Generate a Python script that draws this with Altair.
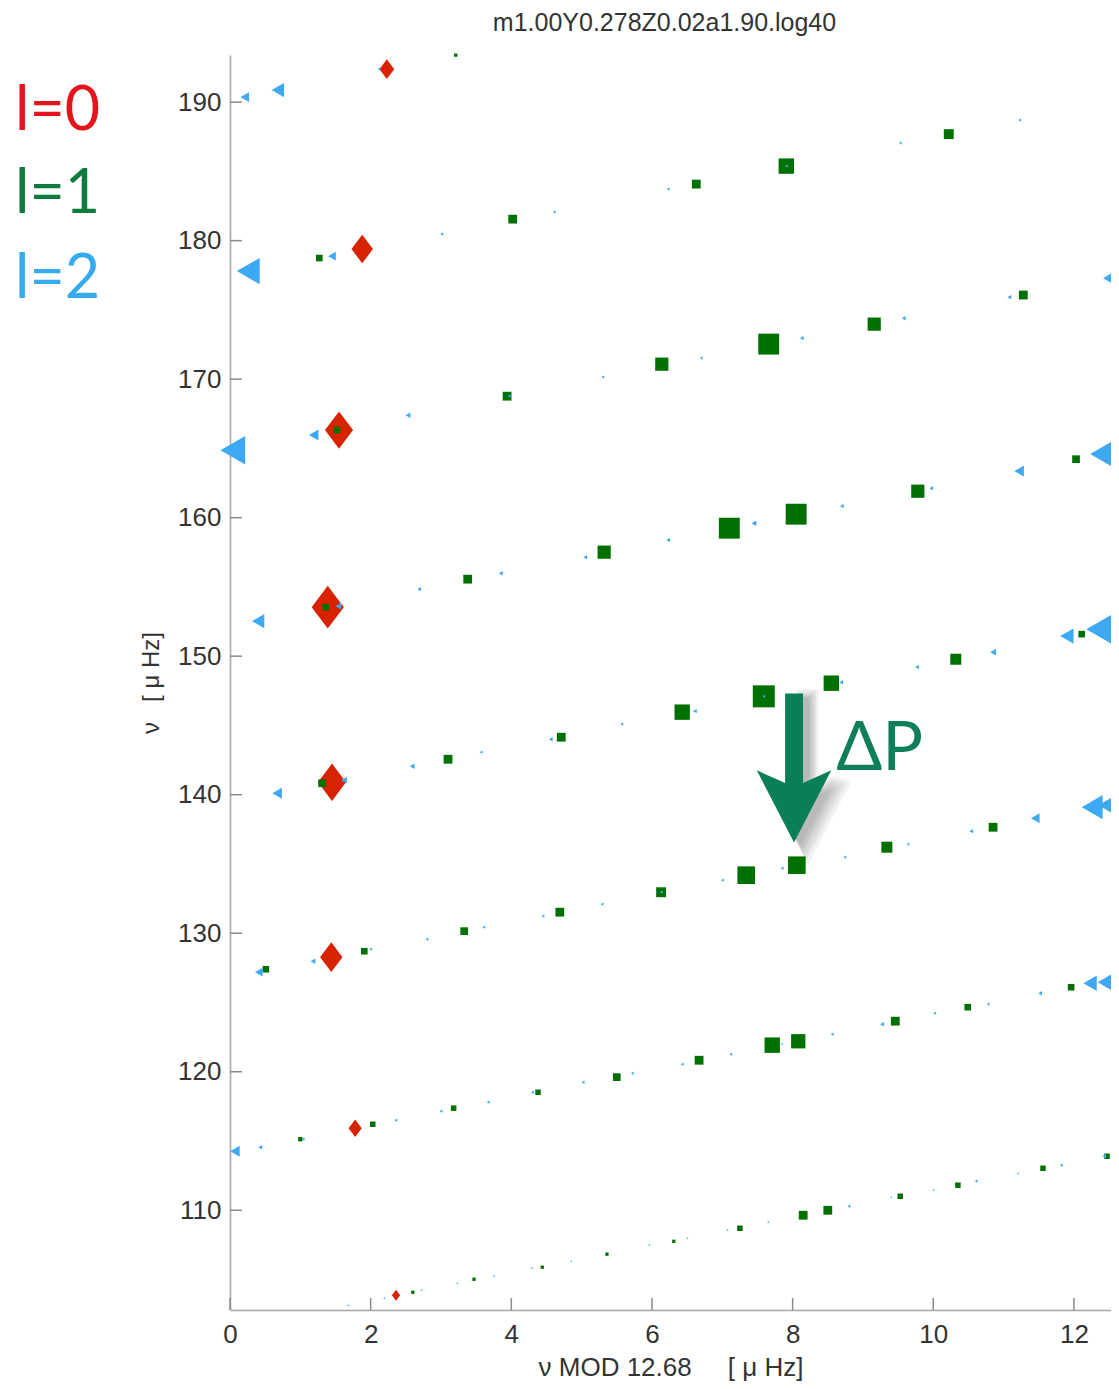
import altair as alt
import pandas as pd

TITLE = "m1.00Y0.278Z0.02a1.90.log40"
X_TITLE = "ν MOD 12.68\u00a0\u00a0\u00a0\u00a0\u00a0[\u00a0μ\u00a0Hz]"
Y_TITLE = "ν\u00a0\u00a0\u00a0[\u00a0μ\u00a0Hz]"

y_ticks = [110, 120, 130, 140, 150, 160, 170, 180, 190]
x_ticks = [0, 2, 4, 6, 8, 10, 12]

legend_labels = ["l=0", "l=1", "l=2"]
legend_colors = ["#e3141b", "#0c7b3c", "#35aaee"]

# l = 0 modes (red diamonds)
l0_x = [2.23, 1.88, 1.55, 1.39, 1.45, 1.44, 1.78, 2.36]
l0_nu = [192.38, 179.39, 166.32, 153.54, 140.90, 128.27, 115.92, 103.87]
l0_amp = [18, 26, 34, 39, 34, 27, 16, 10]

# l = 1 modes (green squares)
l1_x = [3.21, 12.63, 10.22, 7.91, 6.63, 4.02, 1.27,
        11.28, 9.16, 7.66, 6.14, 3.94, 1.52,
        12.03, 9.78, 8.05, 7.10, 5.32, 3.38, 1.36,
        12.11, 10.32, 8.55, 7.59, 6.43, 4.71, 3.10, 1.31,
        10.85, 9.34, 8.06, 7.34, 6.13, 4.69, 3.33, 1.91, 0.51,
        11.96, 10.49, 9.46, 8.08, 7.71, 6.67, 5.50, 4.38, 3.18, 2.03, 1.00,
        12.47, 11.56, 10.35, 9.53, 8.50, 8.15, 7.25, 6.31, 5.36, 4.44, 3.47, 2.60]
l1_nu = [193.39, 190.14, 187.69, 185.38, 184.08, 181.55, 178.74,
         176.07, 173.97, 172.53, 171.08, 168.77, 166.32,
         164.22, 161.91, 160.25, 159.24, 157.51, 155.56, 153.54,
         151.59, 149.78, 148.05, 147.10, 145.96, 144.15, 142.56, 140.83,
         137.65, 136.21, 134.91, 134.19, 132.96, 131.52, 130.15, 128.70, 127.40,
         126.10, 124.66, 123.65, 122.20, 121.92, 120.83, 119.61, 118.52, 117.37, 116.21, 115.13,
         113.90, 113.03, 111.81, 111.01, 110.00, 109.64, 108.70, 107.76, 106.83, 105.89, 105.02, 104.08]
l1_amp = [3, 6, 9, 14, 8, 8, 6,
          8, 12, 19, 12, 8, 6,
          7, 12, 19, 19, 12, 8, 6,
          6, 10, 14, 20, 14, 8, 8, 7,
          8, 10, 16, 16, 9, 8, 7, 6, 6,
          6, 6, 8, 13, 14, 8, 7, 5, 5, 5, 4,
          5, 5, 5, 5, 8, 8, 5, 3, 3, 3, 3, 3]

# l = 2 modes (blue left triangles)
l2_x = [0.21, 0.68, 2.12, 11.23, 9.53, 7.91, 6.23, 4.61, 3.01, 1.45, 0.26,
        12.51, 11.08, 9.58, 8.13, 6.70, 5.30, 3.97, 2.53, 1.19, 0.04,
        12.40, 11.22, 9.97, 8.70, 7.45, 6.23, 5.05, 3.85, 2.69, 1.54, 0.40,
        12.40, 11.90, 10.85, 9.77, 8.69, 7.59, 6.61, 5.57, 4.56, 3.57, 2.59, 1.62, 0.67,
        12.51, 12.26, 11.45, 10.54, 9.64, 8.74, 7.85, 7.00, 6.13, 5.29, 4.45, 3.61, 2.80, 2.00, 1.18, 0.41,
        12.44, 12.23, 11.52, 10.78, 10.02, 9.27, 8.56, 7.85, 7.12, 6.43, 5.72, 5.02, 4.30, 3.67, 3.00, 2.36, 1.04, 0.43, 0.07,
        12.43, 11.82, 11.20, 10.61, 10.00, 9.40, 8.80, 7.65, 7.07, 6.50, 5.96, 4.85, 4.29, 3.75, 3.23, 2.72, 2.19, 1.68]
l2_nu = [190.36, 190.87, 192.38, 188.70, 187.04, 185.38, 183.72, 182.06, 180.47, 178.88, 177.80,
         177.29, 175.92, 174.40, 172.96, 171.52, 170.15, 168.77, 167.40, 165.96, 164.87,
         164.59, 163.36, 162.13, 160.83, 159.60, 158.38, 157.15, 155.99, 154.84, 153.61, 152.53,
         151.95, 151.45, 150.29, 149.21, 148.12, 147.10, 146.03, 145.09, 144.00, 143.07, 142.06, 141.05, 140.11,
         139.24, 139.10, 138.30, 137.37, 136.43, 135.49, 134.69, 133.83, 132.96, 132.10, 131.23, 130.44, 129.57, 128.85, 127.98, 127.19,
         126.46, 126.39, 125.67, 124.88, 124.23, 123.43, 122.71, 122.00, 121.27, 120.54, 119.89, 119.24, 118.52, 117.80, 117.15, 116.50, 115.13, 114.55, 114.26,
         113.90, 113.25, 112.67, 112.10, 111.45, 110.94, 110.29, 109.14, 108.56, 107.98, 107.48, 106.32, 105.82, 105.24, 104.73, 104.23, 103.65, 103.14]
l2_amp = [9, 13, 3, 3, 3, 3, 3, 3, 3, 8, 24,
          14, 4, 4, 4, 3, 3, 3, 5, 10, 26,
          25, 10, 4, 4, 5, 4, 4, 4, 4, 6, 13,
          33, 14, 6, 4, 4, 3, 4, 3, 4, 3, 5, 6, 10,
          24, 22, 9, 4, 3, 3, 3, 3, 3, 3, 3, 3, 3, 3, 5, 8,
          15, 14, 4, 3, 3, 4, 3, 2, 3, 3, 3, 3, 3, 3, 3, 3, 3, 4, 10,
          4, 3, 2, 3, 2, 2, 3, 2, 2, 2, 2, 2, 2, 2, 2, 2, 2, 2]

# annotation (delta P arrow)
arrow_x = [8.02]
arrow_nu = [141.92]
dp_x = [8.62]
dp_nu = [141.77]
dp_text = ["ΔP"]

W, H = 881, 1255
XS = alt.Scale(domain=[0, 12.527], nice=False, zero=False)
YS = alt.Scale(domain=[102.8, 193.4], nice=False, zero=False)
SS = alt.Scale(type="pow", exponent=2, domain=[0, 40], range=[0, 1936])
FONT = "Liberation Sans"
TXT = "#333333"

XAX = alt.Axis(values=x_ticks, ticks=False, grid=False, domain=True,
               domainColor="#a8a8a8", domainWidth=1.6, format="d", labelFlush=False,
               labelFont=FONT, labelFontSize=26, labelColor=TXT, labelPadding=11,
               title=X_TITLE, titleFont=FONT, titleFontSize=26, titleFontWeight="normal",
               titleColor=TXT, titlePadding=7)
YAX = alt.Axis(values=y_ticks, ticks=False, grid=False, domain=True,
               domainColor="#a8a8a8", domainWidth=1.6, format="d",
               labelFont=FONT, labelFontSize=26, labelColor=TXT, labelPadding=9,
               title=Y_TITLE, titleFont=FONT, titleFontSize=24, titleFontWeight="normal",
               titleColor=TXT, titlePadding=14)

df0 = pd.DataFrame({"x": l0_x, "nu": l0_nu, "amp": l0_amp})
df1 = pd.DataFrame({"x": l1_x, "nu": l1_nu, "amp": l1_amp})
df2 = pd.DataFrame({"x": l2_x, "nu": l2_nu, "amp": l2_amp})


def xenc(field="x"):
    return alt.X(f"{field}:Q", scale=XS, axis=XAX)


def yenc(field="nu"):
    return alt.Y(f"{field}:Q", scale=YS, axis=YAX)


def pts(df, shape, color):
    return alt.Chart(df).mark_point(shape=shape, filled=True, color=color,
                                    opacity=1, strokeWidth=0).encode(
        x=xenc(), y=yenc(),
        size=alt.Size("amp:Q", scale=SS, legend=None),
    )


ytick_layer = alt.Chart(pd.DataFrame({"v": y_ticks})).mark_rule(
    color="#8a8a8a", strokeWidth=1.5).encode(
    y=yenc("v"), x=alt.value(0), x2=alt.value(12),
)

xtick_layer = alt.Chart(pd.DataFrame({"v": x_ticks})).mark_rule(
    color="#8a8a8a", strokeWidth=1.5).encode(
    x=xenc("v"), y=alt.value(H), y2=alt.value(H - 12),
)

red = pts(df0, "M0,-1L0.75,0L0,1L-0.75,0Z", "#d82300")
green = pts(df1, "square", "#007000")
blue = pts(df2, "triangle-left", "#3da8f4")

ARROW = "M-0.12,-1L0.12,-1L0.12,0.2L0.5,0.03L0,1L-0.5,0.03L-0.12,0.2Z"
adf = pd.DataFrame({"x": arrow_x, "nu": arrow_nu})
shadows = []
for sc, dx, dy in [(1.40, 14, 9), (1.30, 12, 8), (1.20, 11, 7),
                   (1.12, 9, 6), (1.06, 8, 5), (1.0, 6, 4)]:
    shadows.append(alt.Chart(adf).mark_point(
        shape=ARROW, filled=True, color="#222222", opacity=0.06, strokeWidth=0,
        xOffset=dx, yOffset=dy).encode(
        x=xenc(), y=yenc(), size=alt.value(22201 * sc)))
arrow = alt.Chart(adf).mark_point(shape=ARROW, filled=True, color="#087f55",
                                  opacity=1, strokeWidth=0).encode(
    x=xenc(), y=yenc(), size=alt.value(22201))

dp = alt.Chart(pd.DataFrame({"x": dp_x, "nu": dp_nu, "t": dp_text})).mark_text(
    align="left", baseline="alphabetic", fontSize=68, font="Lato",
    color="#0f7f58").encode(x=xenc(), y=yenc(), text="t:N")

legend_y = [75, 158, 243]
legend_layers = []
for lab, col, yy in zip(legend_labels, legend_colors, legend_y):
    legend_layers.append(alt.Chart(pd.DataFrame({"t": [lab]})).mark_text(
        align="left", baseline="alphabetic", fontSize=61, font="Lato",
        color=col).encode(text="t:N", x=alt.value(-215), y=alt.value(yy)))

chart = alt.layer(
    ytick_layer, xtick_layer, red, green, blue, *shadows, arrow, dp, *legend_layers
).properties(
    width=W, height=H,
    title=alt.TitleParams(TITLE, font=FONT, fontSize=25, fontWeight="normal",
                          color=TXT, offset=17, dx=-6, anchor="middle"),
    padding={"left": 222, "top": 47, "right": 0, "bottom": 71},
    autosize=alt.AutoSizeParams(type="none"),
).configure_view(strokeWidth=0)

chart.save("out.html", embed_options={"renderer": "svg", "actions": False})
